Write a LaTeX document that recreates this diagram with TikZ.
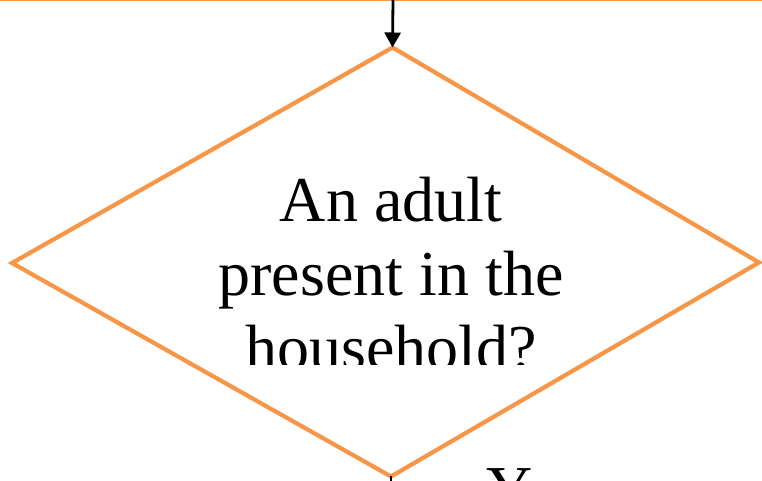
\documentclass[tikz,border=0pt]{standalone}
\usepackage{fontspec}
\setmainfont{Liberation Serif}
\usetikzlibrary{arrows.meta}
\definecolor{flowOrange}{RGB}{247,150,70}
\tikzset{
  decisionline/.style={draw=flowOrange, line width=4.2pt},
  flowarrow/.style={-{Triangle[width=16pt,length=15pt]}, line width=2.8pt},
  bigtext/.style={font=\fontsize{64}{74}\selectfont, inner sep=0pt},
}
\begin{document}
\begin{tikzpicture}[x=1pt, y=1pt]
    \useasboundingbox (0,0) rectangle (762,481);

    % ----------------------------------------------------
    % bordo del riquadro superiore
    % ----------------------------------------------------
    \draw[flowOrange, line width=1.8pt] (0,480.5) -- (762,480.5);

    % ----------------------------------------------------
    % rombo di decisione
    % ----------------------------------------------------
    \coordinate (qtop) at (392.5,433.5);
    \coordinate (qright) at (759,218.5);
    \coordinate (qbot) at (391,4.5);
    \coordinate (qleft) at (12,218);
    \draw[decisionline] (qtop) -- (qright) -- (qbot) -- (qleft) -- cycle;

    % testo (tagliato in basso)
    \begin{scope}
        \clip (0,116) rectangle (762,481);
        \node[bigtext, align=center] (adulttxt) at (391,207) {An adult\\present in the\\household?};
    \end{scope}

    % ----------------------------------------------------
    % frecce in entrata e in uscita
    % ----------------------------------------------------
    \coordinate (infeed) at (393,481);
    \draw[flowarrow] (infeed) -- (qtop);
    \coordinate (outfeed) at (391,-10);
    \draw[line width=2.8pt] (qbot) -- (outfeed);
    \node[bigtext, anchor=base west] (yeslbl) at (486.5,-29.4) {Y};
\end{tikzpicture}
\end{document}
